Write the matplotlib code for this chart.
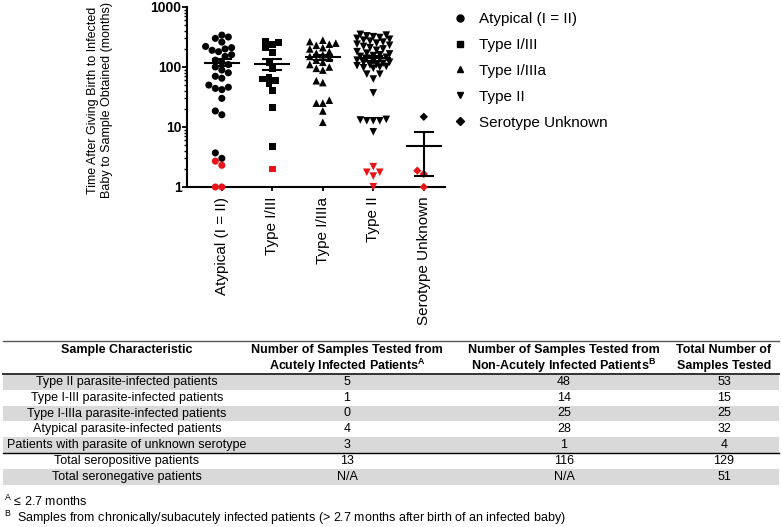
import numpy as np
import matplotlib
matplotlib.use("Agg")
import matplotlib.pyplot as plt
from matplotlib.lines import Line2D

plt.rcParams['font.family'] = ['Liberation Sans', 'DejaVu Sans']
plt.rcParams['mathtext.fontset'] = 'custom'
plt.rcParams['mathtext.rm'] = 'Liberation Sans'
plt.rcParams['mathtext.bf'] = 'Liberation Sans:bold'

# ---- data (months after birth of infected baby) ----
categorias = ['Atypical (I = II)', 'Type I/III', 'Type I/IIIa', 'Type II', 'Serotype Unknown']
marcadores = ['o', 's', '^', 'v', 'D']
tamanhos = [26, 24, 30, 30, 18]

atypical_agudo = [2.7, 2.3, 1.0, 1.0]
atypical_cronico = [3.7, 3.0, 16, 18.5, 30, 42, 44, 46, 50, 65, 70, 80, 89, 100,
                    110, 120, 130, 150, 160, 180, 190, 200, 210, 220, 260, 300, 316, 340]
tipo13_agudo = [2.0]
tipo13_cronico = [4.8, 21, 41, 52, 60, 63, 67, 95, 120, 175, 210, 240, 255, 270]
tipo13a_agudo = []
tipo13a_cronico = [12, 18.5, 25, 25, 28, 55, 59, 89, 95, 100, 110, 120, 130, 140,
                   150, 160, 170, 180, 200, 210, 230, 240, 250, 265, 280]
tipo2_agudo = [1.76, 1.76, 2.18, 1.52, 1.01]
tipo2_cronico = [8.3, 12.7, 12.7, 12.7, 13.1, 13.4, 37, 63, 76, 76, 95, 97,
                 100, 102, 105, 108, 110, 115, 118, 120, 125, 130, 135, 140,
                 145, 150, 155, 160, 165, 170, 180, 190, 200, 210, 220, 230,
                 240, 250, 260, 270, 280, 290, 300, 310, 320, 330, 340, 350]
desconhecido_agudo = [1.87, 1.65, 1.0]
desconhecido_cronico = [14.8]

agudos = [atypical_agudo, tipo13_agudo, tipo13a_agudo, tipo2_agudo, desconhecido_agudo]
cronicos = [atypical_cronico, tipo13_cronico, tipo13a_cronico, tipo2_cronico, desconhecido_cronico]

# mean and SEM
medias = [118, 113, 145, 139, 4.8]
sem_inf = [105, 89, 132, 127, 1.5]
sem_sup = [135, 135, 158, 152, 8.2]

# ---- table ----
cabecalho = [['Sample Characteristic'],
             ['Number of Samples Tested from', r'Acutely Infected Patients$^{\mathbf{A}}$'],
             ['Number of Samples Tested from', r'Non-Acutely Infected Patients$^{\mathbf{B}}$'],
             ['Total Number of', 'Samples Tested']]
linhas = ['Type II parasite-infected patients',
          'Type I-III parasite-infected patients',
          'Type I-IIIa parasite-infected patients',
          'Atypical parasite-infected patients',
          'Patients with parasite of unknown serotype',
          'Total seropositive patients',
          'Total seronegative patients']
agudo_n = ['5', '1', '0', '4', '3', '13', 'N/A']
cronico_n = ['48', '14', '25', '28', '1', '116', 'N/A']
total_n = ['53', '15', '25', '32', '4', '129', '51']
notas = [r'$^{\mathrm{A}}$ ≤ 2.7 months',
         r'$^{\mathrm{B}}$  Samples from chronically/subacutely infected patients (> 2.7 months after birth of an infected baby)']

W, H = 782, 527
fig = plt.figure(figsize=(W / 100, H / 100), dpi=100)

# table drawn in pixel coordinates
axt = fig.add_axes([0, 0, 1, 1])
axt.set_xlim(0, W)
axt.set_ylim(H, 0)
axt.axis('off')

x_col = [127, 347, 564, 724]
topo, fim_cab, passo = 341, 374, 15.8
axt.plot([3, 779], [topo, topo], color='#555555', lw=1.0)
for j, linhas_cab in enumerate(cabecalho):
    for k, t in enumerate(linhas_cab):
        axt.text(x_col[j], 350 + 16 * k, t, ha='center', va='center',
                 fontsize=9, fontweight='bold')
for i in range(len(linhas)):
    y0 = fim_cab + passo * i
    if i % 2 == 0:
        axt.fill_between([3, 779], y0, y0 + passo, color='#d9d9d9', lw=0, zorder=0)
    yc = y0 + passo / 2
    for j, t in enumerate([linhas[i], agudo_n[i], cronico_n[i], total_n[i]]):
        axt.text(x_col[j], yc, t, ha='center', va='center', fontsize=9)
axt.plot([3, 779], [fim_cab, fim_cab], color='#333333', lw=1.4)
axt.plot([3, 779], [fim_cab + 5 * passo, fim_cab + 5 * passo], color='black', lw=1.0)
axt.text(4, 501, notas[0], ha='left', va='center', fontsize=9)
axt.text(4, 518, notas[1], ha='left', va='center', fontsize=9)

# ---- scatter plot ----
ax = fig.add_axes([187 / W, 1 - 187 / H, 258 / W, 180 / H])
ax.set_yscale('log')
ax.set_ylim(1, 1000)
ax.set_xlim(-0.69, 4.42)
ax.patch.set_alpha(0)


def enxame(valores, xc, d=6.5, largura=18):
    # simple beeswarm in pixel space
    if len(valores) == 0:
        return np.array([])
    pts = ax.transData.transform(np.column_stack([np.full(len(valores), xc), valores]))
    ys = pts[:, 1]
    candidatos = [0.0] + [s * k * d / 2 for k in range(1, 12) for s in (-1, 1)]
    colocados = []
    offs = np.zeros(len(valores))
    for i in np.argsort(ys):
        melhor, melhor_d = 0.0, -1
        for c in candidatos:
            if abs(c) > largura:
                continue
            md = min([np.hypot(c - px, ys[i] - py) for px, py in colocados], default=1e9)
            if md >= d:
                melhor = c
                break
            if md > melhor_d:
                melhor_d, melhor = md, c
        offs[i] = melhor
        colocados.append((melhor, ys[i]))
    px_unid = ax.transData.transform((1, 1))[0] - ax.transData.transform((0, 1))[0]
    return xc + offs / px_unid


for i in range(len(categorias)):
    vals = list(cronicos[i]) + list(agudos[i])
    cores = ['black'] * len(cronicos[i]) + ['#e8141a'] * len(agudos[i])
    xs = enxame(vals, i)
    ax.scatter(xs, vals, marker=marcadores[i], s=tamanhos[i], c=cores,
               linewidths=0, zorder=3, clip_on=False)
    ax.plot([i - 0.34, i + 0.34], [medias[i], medias[i]], color='black', lw=1.5, zorder=4)
    ax.plot([i, i], [sem_inf[i], sem_sup[i]], color='black', lw=1.5, zorder=4)
    for v in (sem_inf[i], sem_sup[i]):
        ax.plot([i - 0.18, i + 0.18], [v, v], color='black', lw=1.5, zorder=4)

for lado in ('top', 'right'):
    ax.spines[lado].set_visible(False)
for lado in ('left', 'bottom'):
    ax.spines[lado].set_linewidth(1.5)

ax.set_yticks([1, 10, 100, 1000])
ax.set_yticklabels(['1', '10', '100', '1000'], fontweight='bold', fontsize=10)
ax.tick_params(axis='y', which='major', length=3.5, width=1.3, pad=0.5)
ax.tick_params(axis='y', which='minor', length=2, width=1.0)
ax.set_xticks(range(len(categorias)))
ax.set_xticklabels(categorias, rotation=90, fontsize=11)
ax.tick_params(axis='x', length=3, width=1.3, pad=4)

fig.text(100 / W, 1 - 100 / H,
         'Time After Giving Birth to Infected\nBaby to Sample Obtained (months)',
         rotation=90, ha='center', va='center', fontsize=9, multialignment='center')

handles = [Line2D([], [], marker=m, color='black', linestyle='none',
                  markersize=5 if m != 'D' else 4) for m in marcadores]
fig.legend(handles, categorias, loc='upper left', bbox_to_anchor=(452 / W, 1 - 12 / H),
           frameon=False, fontsize=11, labelspacing=0.78, handlelength=1,
           handletextpad=0.8, borderpad=0, borderaxespad=0)

fig.savefig('out.png', dpi=100)
